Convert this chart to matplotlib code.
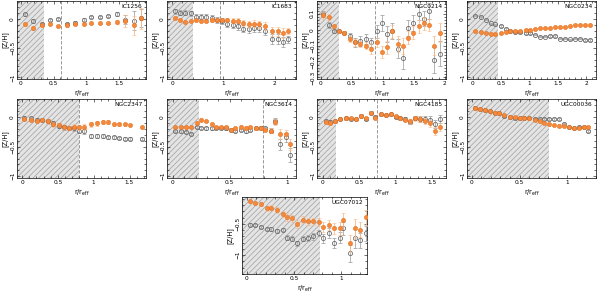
import numpy as np
import matplotlib
matplotlib.use("Agg")
import matplotlib.pyplot as plt
from matplotlib.ticker import MultipleLocator, AutoMinorLocator, FuncFormatter

# ---- data ----
# gray open circles = series A, orange filled = series B

ic1256_r = [0.06, 0.19, 0.32, 0.44, 0.57, 0.70, 0.83, 0.96, 1.07, 1.20, 1.33, 1.46, 1.59, 1.72, 1.84]
ic1256_a = [0.08, -0.03, -0.09, -0.02, 0.005, -0.09, -0.06, -0.01, 0.04, 0.04, 0.05, 0.09, -0.01, -0.03, 0.02]
ic1256_a_err = [0.03, 0.03, 0.03, 0.02, 0.02, 0.02, 0.02, 0.02, 0.02, 0.02, 0.02, 0.03, 0.08, 0.16, 0.15]
ic1256_b = [-0.09, -0.15, -0.11, -0.09, -0.12, -0.11, -0.09, -0.08, -0.07, -0.07, -0.07, -0.05, -0.03, -0.11, 0.01]
ic1256_b_err = [0.03, 0.03, 0.03, 0.02, 0.02, 0.02, 0.02, 0.02, 0.02, 0.02, 0.02, 0.03, 0.10, 0.17, 0.18]

ic1683_r = [0.06, 0.15, 0.26, 0.36, 0.46, 0.57, 0.67, 0.77, 0.88, 0.98, 1.08, 1.19, 1.29, 1.39, 1.50,
            1.60, 1.70, 1.81, 1.96, 2.06, 2.17, 2.27]
ic1683_a = [0.13, 0.11, 0.11, 0.10, 0.04, 0.04, 0.04, 0.02, -0.02, -0.03, -0.08, -0.10, -0.12, -0.17,
            -0.17, -0.16, -0.16, -0.20, -0.34, -0.34, -0.39, -0.35]
ic1683_a_err = [0.04, 0.04, 0.04, 0.04, 0.04, 0.04, 0.04, 0.05, 0.05, 0.05, 0.05, 0.05, 0.06, 0.06,
                0.07, 0.07, 0.07, 0.08, 0.09, 0.09, 0.09, 0.06]
ic1683_b = [0.02, -0.01, -0.05, -0.03, -0.02, -0.03, -0.03, -0.02, -0.01, -0.01, -0.01, -0.03, -0.03,
            -0.07, -0.08, -0.08, -0.09, -0.12, -0.21, -0.21, -0.24, -0.20]
ic1683_b_err = [0.02, 0.02, 0.02, 0.02, 0.02, 0.02, 0.02, 0.03, 0.03, 0.03, 0.03, 0.04, 0.04, 0.05,
                0.05, 0.06, 0.06, 0.07, 0.08, 0.08, 0.08, 0.05]

ngc0214_r = [0.04, 0.13, 0.21, 0.30, 0.38, 0.47, 0.55, 0.64, 0.73, 0.81, 0.90, 0.98, 1.07, 1.15, 1.24,
             1.32, 1.41, 1.49, 1.58, 1.66, 1.75, 1.83, 1.92]
ngc0214_a = [0.10, 0.03, -0.01, -0.01, -0.02, -0.04, -0.08, -0.07, -0.06, -0.08, -0.01, 0.04, -0.03,
             -0.01, -0.12, -0.18, 0.01, 0.04, 0.10, 0.07, 0.12, -0.19, -0.15]
ngc0214_a_err = [0.02, 0.02, 0.01, 0.01, 0.01, 0.02, 0.03, 0.03, 0.03, 0.03, 0.04, 0.05, 0.05, 0.05,
                 0.06, 0.07, 0.05, 0.05, 0.04, 0.05, 0.05, 0.08, 0.08]
ngc0214_b = [0.09, 0.08, 0.02, -0.01, -0.02, -0.06, -0.08, -0.09, -0.10, -0.12, -0.08, -0.14, -0.11,
             -0.01, -0.09, -0.10, -0.05, -0.02, 0.02, 0.04, 0.03, -0.10, -0.02]
ngc0214_b_err = [0.02, 0.02, 0.01, 0.01, 0.01, 0.02, 0.02, 0.02, 0.02, 0.03, 0.03, 0.04, 0.04, 0.04,
                 0.05, 0.05, 0.04, 0.04, 0.04, 0.04, 0.04, 0.06, 0.06]

ngc0234_r = [0.04, 0.14, 0.23, 0.32, 0.40, 0.49, 0.58, 0.66, 0.75, 0.84, 0.93, 1.01, 1.10, 1.19, 1.28,
             1.36, 1.45, 1.54, 1.63, 1.71, 1.80, 1.89, 1.98, 2.06]
ngc0234_a = [0.06, 0.04, -0.01, -0.07, -0.09, -0.12, -0.17, -0.21, -0.23, -0.23, -0.24, -0.24, -0.27,
             -0.30, -0.30, -0.29, -0.29, -0.34, -0.34, -0.35, -0.34, -0.34, -0.36, -0.36]
ngc0234_b = [-0.20, -0.23, -0.24, -0.25, -0.25, -0.24, -0.23, -0.21, -0.20, -0.20, -0.18, -0.18, -0.17,
             -0.16, -0.16, -0.15, -0.14, -0.14, -0.13, -0.12, -0.10, -0.10, -0.11, -0.11]
ngc0234_err = [0.01] * 24

ngc2347_r = [0.03, 0.12, 0.21, 0.28, 0.36, 0.43, 0.51, 0.58, 0.66, 0.72, 0.80, 0.87, 0.96, 1.04, 1.13,
             1.20, 1.29, 1.36, 1.44, 1.51, 1.68]
ngc2347_a = [-0.01, -0.02, -0.04, -0.04, -0.07, -0.10, -0.14, -0.17, -0.18, -0.19, -0.23, -0.24, -0.32,
             -0.32, -0.32, -0.34, -0.34, -0.35, -0.36, -0.36, -0.36]
ngc2347_a_err = [0.03, 0.03, 0.03, 0.03, 0.04, 0.04, 0.04, 0.04, 0.04, 0.04, 0.04, 0.04, 0.03, 0.03,
                 0.03, 0.03, 0.03, 0.02, 0.02, 0.02, 0.02]
ngc2347_b = [-0.03, -0.04, -0.06, -0.04, -0.07, -0.12, -0.13, -0.16, -0.18, -0.16, -0.17, -0.16, -0.12,
             -0.10, -0.08, -0.08, -0.12, -0.12, -0.12, -0.13, -0.16]
ngc2347_b_err = [0.03, 0.03, 0.03, 0.03, 0.04, 0.04, 0.04, 0.04, 0.04, 0.04, 0.04, 0.04, 0.04, 0.04,
                 0.04, 0.03, 0.03, 0.02, 0.02, 0.02, 0.02]

ngc3614_r = [0.02, 0.07, 0.12, 0.16, 0.21, 0.25, 0.29, 0.34, 0.38, 0.42, 0.47, 0.51, 0.55, 0.60, 0.64,
             0.68, 0.73, 0.77, 0.81, 0.86, 0.90, 0.94, 0.99, 1.03]
ngc3614_a = [-0.23, -0.24, -0.25, -0.28, -0.17, -0.18, -0.19, -0.19, -0.18, -0.18, -0.19, -0.21, -0.23,
             -0.21, -0.23, -0.21, -0.19, -0.18, -0.19, -0.23, -0.06, -0.46, -0.34, -0.64]
ngc3614_a_err = [0.02, 0.02, 0.02, 0.02, 0.02, 0.02, 0.02, 0.02, 0.02, 0.02, 0.02, 0.02, 0.02, 0.03,
                 0.03, 0.03, 0.03, 0.03, 0.03, 0.04, 0.05, 0.10, 0.08, 0.12]
ngc3614_b = [-0.17, -0.16, -0.16, -0.17, -0.10, -0.04, -0.06, -0.12, -0.17, -0.17, -0.17, -0.21, -0.18,
             -0.16, -0.18, -0.17, -0.19, -0.19, -0.21, -0.23, -0.08, -0.28, -0.28, -0.46]
ngc3614_b_err = [0.02, 0.02, 0.02, 0.02, 0.02, 0.02, 0.02, 0.02, 0.02, 0.02, 0.02, 0.02, 0.02, 0.03,
                 0.03, 0.03, 0.03, 0.03, 0.03, 0.04, 0.05, 0.08, 0.07, 0.10]

ngc4185_r = [0.04, 0.10, 0.17, 0.24, 0.32, 0.38, 0.45, 0.52, 0.59, 0.66, 0.72, 0.80, 0.86, 0.93, 1.00,
             1.06, 1.13, 1.19, 1.27, 1.33, 1.40, 1.47, 1.54, 1.61]
ngc4185_a = [-0.07, -0.08, -0.07, -0.03, -0.02, -0.03, -0.03, 0.03, -0.03, 0.08, 0.01, 0.05, 0.04, 0.05,
             0.01, -0.02, -0.03, -0.08, -0.01, -0.03, -0.03, -0.04, -0.12, -0.03]
ngc4185_a_err = [0.03, 0.03, 0.02, 0.02, 0.02, 0.02, 0.02, 0.02, 0.02, 0.02, 0.02, 0.02, 0.02, 0.02,
                 0.02, 0.03, 0.03, 0.04, 0.04, 0.05, 0.05, 0.06, 0.07, 0.07]
ngc4185_b = [-0.08, -0.10, -0.07, -0.03, -0.02, -0.02, -0.03, 0.03, -0.01, 0.08, -0.01, 0.05, 0.04, 0.05,
             0.02, -0.02, -0.04, -0.07, -0.02, -0.03, -0.07, -0.10, -0.23, -0.17]
ngc4185_b_err = [0.03, 0.03, 0.02, 0.02, 0.02, 0.02, 0.02, 0.02, 0.02, 0.02, 0.02, 0.02, 0.02, 0.02,
                 0.02, 0.03, 0.03, 0.04, 0.04, 0.05, 0.05, 0.06, 0.07, 0.07]

ugc00036_r = [0.03, 0.09, 0.14, 0.19, 0.24, 0.29, 0.34, 0.40, 0.45, 0.50, 0.55, 0.60, 0.66, 0.71, 0.76,
              0.81, 0.86, 0.91, 0.97, 1.02, 1.07, 1.12, 1.17, 1.22]
ugc00036_a = [0.16, 0.14, 0.12, 0.11, 0.08, 0.07, 0.03, 0.01, -0.01, -0.01, -0.01, -0.01, -0.03, -0.03,
              -0.03, -0.03, -0.03, -0.03, -0.12, -0.17, -0.18, -0.17, -0.16, -0.23]
ugc00036_b = [0.15, 0.14, 0.12, 0.11, 0.08, 0.07, 0.04, 0.01, 0.00, -0.01, -0.01, -0.02, -0.05, -0.07,
              -0.10, -0.12, -0.13, -0.14, -0.14, -0.16, -0.18, -0.18, -0.16, -0.16]
ugc00036_err = [0.02] * 24

ugc07012_r = [0.03, 0.09, 0.15, 0.21, 0.26, 0.32, 0.38, 0.43, 0.48, 0.53, 0.59, 0.65, 0.70, 0.76, 0.81,
              0.87, 0.92, 0.98, 1.02, 1.09, 1.14, 1.20, 1.26]
ugc07012_a = [-0.51, -0.52, -0.55, -0.58, -0.58, -0.61, -0.59, -0.72, -0.74, -0.81, -0.74, -0.73, -0.70,
              -0.65, -0.73, -0.65, -0.81, -0.72, -0.57, -0.97, -0.73, -0.76, -0.65]
ugc07012_a_err = [0.02, 0.02, 0.02, 0.02, 0.03, 0.03, 0.03, 0.04, 0.04, 0.04, 0.04, 0.05, 0.05, 0.05,
                  0.07, 0.08, 0.08, 0.09, 0.10, 0.14, 0.15, 0.12, 0.12]
ugc07012_b = [-0.14, -0.17, -0.18, -0.25, -0.24, -0.28, -0.34, -0.39, -0.41, -0.50, -0.43, -0.46, -0.46,
              -0.47, -0.55, -0.52, -0.57, -0.57, -0.43, -0.81, -0.57, -0.59, -0.39]
ugc07012_b_err = [0.02, 0.02, 0.03, 0.04, 0.04, 0.05, 0.05, 0.06, 0.06, 0.06, 0.06, 0.06, 0.06, 0.07,
                  0.08, 0.08, 0.09, 0.10, 0.10, 0.14, 0.15, 0.12, 0.12]

names = ["IC1256", "IC1683", "NGC0214", "NGC0234", "NGC2347", "NGC3614", "NGC4185", "UGC00036", "UGC07012"]
radii = [ic1256_r, ic1683_r, ngc0214_r, ngc0234_r, ngc2347_r, ngc3614_r, ngc4185_r, ugc00036_r, ugc07012_r]
vals_a = [ic1256_a, ic1683_a, ngc0214_a, ngc0234_a, ngc2347_a, ngc3614_a, ngc4185_a, ugc00036_a, ugc07012_a]
errs_a = [ic1256_a_err, ic1683_a_err, ngc0214_a_err, ngc0234_err, ngc2347_a_err, ngc3614_a_err,
          ngc4185_a_err, ugc00036_err, ugc07012_a_err]
vals_b = [ic1256_b, ic1683_b, ngc0214_b, ngc0234_b, ngc2347_b, ngc3614_b, ngc4185_b, ugc00036_b, ugc07012_b]
errs_b = [ic1256_b_err, ic1683_b_err, ngc0214_b_err, ngc0234_err, ngc2347_b_err, ngc3614_b_err,
          ngc4185_b_err, ugc00036_err, ugc07012_b_err]
shade_edge = [0.35, 0.41, 0.29, 0.45, 0.80, 0.23, 0.18, 0.81, 0.77]
dashed_r = [0.615, 0.93, 0.88, None, 0.80, 0.79, 0.75, None, None]

# ---- layout ----
xlims = [(-0.06, 1.91), (-0.10, 2.42), (-0.06, 2.02), (-0.10, 2.17), (-0.07, 1.73),
         (-0.05, 1.08), (-0.08, 1.69), (-0.05, 1.30), (-0.05, 1.27)]
ylims = [(-1.03, 0.31)] * 9
ylims[2] = (-0.31, 0.18)
ylims[8] = (-1.3, -0.07)
xmajor = [0.5, 1, 0.5, 0.5, 0.5, 0.5, 0.5, 0.5, 0.5]
ymajor = [0.5, 0.5, 0.1, 0.5, 0.5, 0.5, 0.5, 0.5, 0.5]

W, H = 600, 296
boxes = []
for row, (top, bot) in enumerate([(1, 79), (99, 178)]):
    for col in range(4):
        left = 17 + 150 * col
        boxes.append([left / W, 1 - bot / H, 129 / W, (bot - top) / H])
boxes.append([242 / W, 1 - 274 / H, 125 / W, (274 - 197) / H])

orange = "#f6893b"
orange_err = "#f9b988"
gray = "#6d6d6d"
gray_err = "#a8a8a8"


def fmt(v, pos):
    s = "%g" % round(v, 3)
    if s == "-0":
        s = "0"
    return s.replace("-", "\u2212")


fig = plt.figure(figsize=(6, 2.96), dpi=100)
plt.rcParams["hatch.color"] = "#a0a0a0"
plt.rcParams["hatch.linewidth"] = 0.5

for i in range(9):
    ax = fig.add_axes(boxes[i])
    x0, x1 = xlims[i]
    ax.axvspan(x0, shade_edge[i], facecolor="#e4e4e4", edgecolor="#a0a0a0", hatch="//////", lw=0, zorder=0)
    if dashed_r[i] is not None:
        ax.axvline(dashed_r[i], color="#888888", ls=(0, (4, 2)), lw=0.6, zorder=1)
    ax.errorbar(radii[i], vals_a[i], yerr=errs_a[i], fmt="o", ms=3.0, mfc="none", mec=gray, mew=0.6,
                ecolor=gray_err, elinewidth=0.6, capsize=1.2, capthick=0.5, zorder=3)
    ax.errorbar(radii[i], vals_b[i], yerr=errs_b[i], fmt="o", ms=3.0, mfc=orange, mec="#e2701f", mew=0.4,
                ecolor=orange_err, elinewidth=0.6, capsize=1.2, capthick=0.5, zorder=4)
    ax.set_xlim(x0, x1)
    ax.set_ylim(*ylims[i])
    ax.xaxis.set_major_locator(MultipleLocator(xmajor[i]))
    ax.yaxis.set_major_locator(MultipleLocator(ymajor[i]))
    ax.xaxis.set_minor_locator(AutoMinorLocator(5))
    ax.yaxis.set_minor_locator(AutoMinorLocator(5))
    ax.xaxis.set_major_formatter(FuncFormatter(fmt))
    ax.yaxis.set_major_formatter(FuncFormatter(fmt))
    ax.tick_params(which="both", direction="in", top=True, right=True, labelsize=4.2, pad=1.5, width=0.4)
    ax.tick_params(which="major", length=2.5)
    ax.tick_params(which="minor", length=1.2)
    for lab in ax.get_yticklabels():
        lab.set_rotation(90)
        lab.set_va("center")
    for s in ax.spines.values():
        s.set_linewidth(0.5)
    ax.text(0.97, 0.96, names[i], transform=ax.transAxes, ha="right", va="top", fontsize=4.2)
    ax.set_ylabel("[Z/H]", fontsize=4.8, labelpad=1)
    ax.set_xlabel(r"r/r$_{\rm eff}$", fontsize=4.8, labelpad=2)

fig.savefig("out.png", dpi=100)
